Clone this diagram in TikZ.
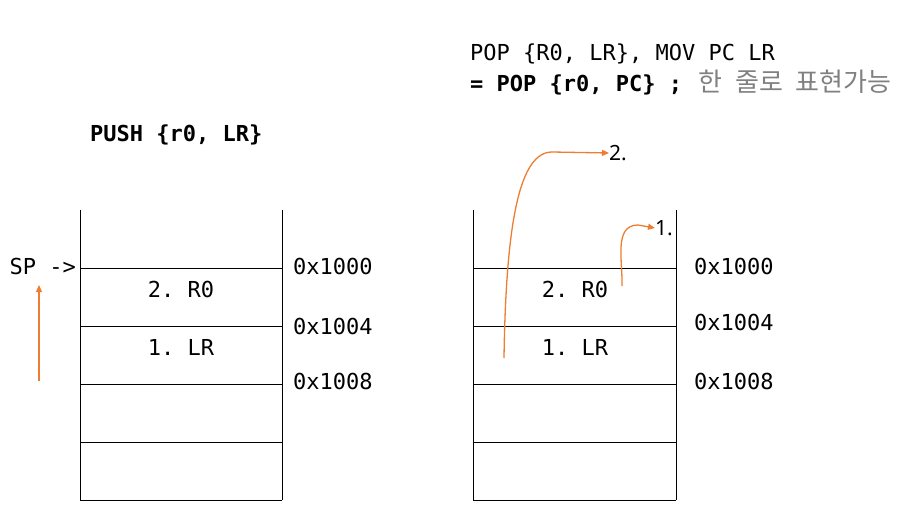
\documentclass[tikz,border=0pt]{standalone}
\usepackage{fontspec}
\setmainfont{Noto Sans}
\setmonofont{DejaVu Sans Mono}
\newfontfamily\krfont{Noto Sans CJK KR}
\usepackage{xcolor}
\usetikzlibrary{arrows.meta, positioning}
\definecolor{arrorange}{RGB}{237,125,49}
\definecolor{notegray}{RGB}{128,128,128}

\begin{document}
\begin{tikzpicture}[x=1pt, y=-1pt,
    code/.style={font=\ttfamily\fontsize{22}{26}\selectfont, inner sep=0pt},
    boldcode/.style={code, font=\ttfamily\bfseries\fontsize{22}{26}\selectfont},
    addr/.style={code, anchor=west},
    poplabel/.style={font=\fontsize{21}{24}\selectfont, inner sep=0pt, anchor=west},
    moveline/.style={arrorange, line width=1.3pt, -{Triangle[length=7pt, width=6pt]}}]
    \useasboundingbox (0, 0) rectangle (916, 532);

    % 왼쪽 스택
    \draw[line width=0.8pt] (80, 210) -- (80, 500);
    \draw[line width=0.8pt] (282, 210) -- (282, 500);
    \foreach \y in {268, 326, 384, 442, 500}
        \draw[line width=0.8pt] (80, \y) -- (282, \y);

    % 오른쪽 스택
    \draw[line width=0.8pt] (473, 210) -- (473, 500);
    \draw[line width=0.8pt] (676, 210) -- (676, 500);
    \foreach \y in {268, 326, 384, 442, 500}
        \draw[line width=0.8pt] (473, \y) -- (676, \y);

    % 명령어
    \node[boldcode, anchor=west] (push) at (90, 135) {PUSH \{r0, LR\}};
    \node[code, anchor=west] (pop) at (470, 54) {POP \{R0, LR\}, MOV PC LR};
    \node[boldcode, anchor=west] (popline) at (470, 85) {= POP \{r0, PC\} ;};
    \coordinate (notex) at (698, 0);
    \node[inner sep=0pt, anchor=base west, notegray, font=\krfont\fontsize{26}{30}\selectfont] (note) at (popline.base -| notex) {한\hspace{13pt}줄로\hspace{13pt}표현가능};

    % 스택 내용
    \node[code] (r0l) at (181, 289) {2. R0};
    \node[code] (lrl) at (181, 347) {1. LR};
    \node[code] (r0r) at (575, 289) {2. R0};
    \node[code] (lrr) at (575, 347) {1. LR};

    % 주소
    \node[addr] (a1l) at (293, 266) {0x1000};
    \node[addr] (a2l) at (293, 326) {0x1004};
    \node[addr] (a3l) at (293, 381) {0x1008};
    \node[addr] (a1r) at (694, 266) {0x1000};
    \node[addr] (a2r) at (694, 322) {0x1004};
    \node[addr] (a3r) at (694, 381) {0x1008};

    % SP
    \node[code, anchor=east] (sp) at (76, 266) {SP ->};
    \coordinate (spfrom) at (39, 381);
    \coordinate (spto) at (39, 285);
    \draw[moveline] (spfrom) -- (spto);

    % pop 순서
    \node[poplabel] (two) at (609, 153) {2.};
    \node[poplabel] (one) at (655, 228) {1.};
    \coordinate (from2) at (504, 358);
    \coordinate (from1) at (622, 286);
    \draw[moveline] (from2) .. controls (506, 220) and (520, 152) .. (552, 152) -- (two.west);
    \draw[moveline] (from1) to[out=88, in=180] (638, 225) -- (one.west);
\end{tikzpicture}
\end{document}
